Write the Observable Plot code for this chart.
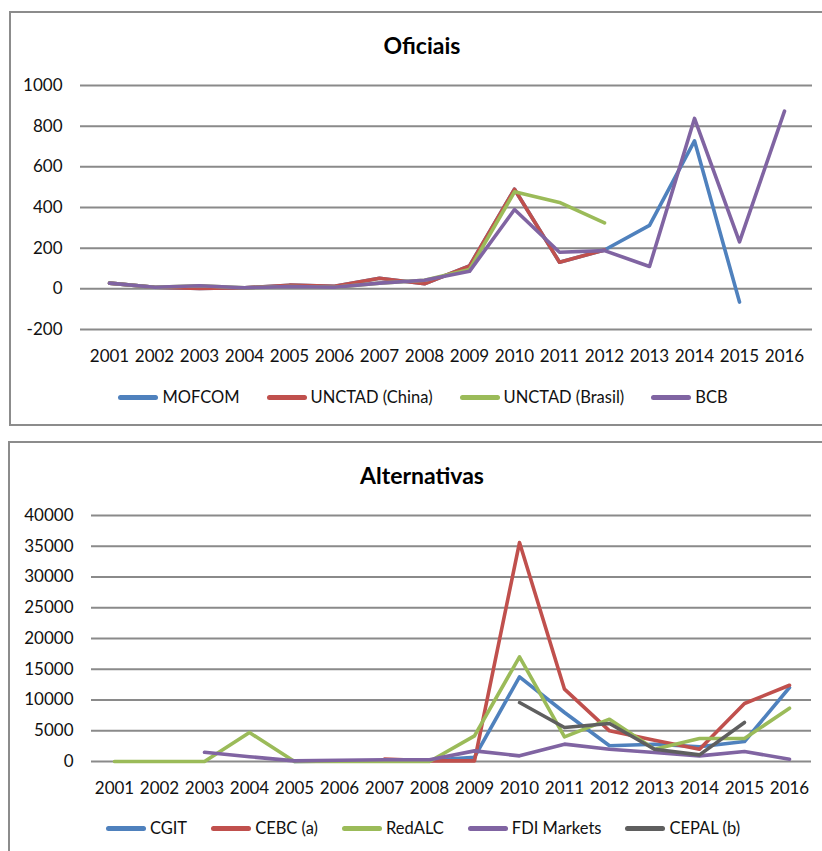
<!DOCTYPE html>
<html><head><meta charset="utf-8">
<script src="https://cdn.jsdelivr.net/npm/d3@7"></script>
<script src="https://cdn.jsdelivr.net/npm/@observablehq/plot@0.6"></script>
<style>
body{margin:0;width:822px;height:851px;overflow:hidden;background:#fff;font-family:Lato,sans-serif;position:relative;}
.panel{position:absolute;border:2px solid #8c8c8c;box-sizing:border-box;background:#fff;}
.title{position:absolute;text-align:center;font-weight:bold;font-size:23px;line-height:26px;color:#000;}
.chart{position:absolute;left:0;}
.legend{position:absolute;display:flex;justify-content:center;align-items:center;font-size:16.5px;line-height:20px;color:#111;}
.item{display:flex;align-items:center;white-space:nowrap;}
.sw{width:40px;height:5px;border-radius:3px;margin-right:4px;}
</style>
</head><body>
<div class="panel" style="left:9px;top:11px;width:826px;height:415px;"></div>
<div class="panel" style="left:8px;top:441px;width:828px;height:430px;"></div>
<div class="title" style="left:10px;width:824px;top:32px;">Oficiais</div>
<div class="title" style="left:10px;width:824px;top:462px;">Alternativas</div>
<div id="c1" class="chart" style="top:60px;"></div>
<div id="c2" class="chart" style="top:490px;"></div>
<div id="l1" class="legend" style="left:10px;width:826px;top:387px;gap:27px;"></div>
<div id="l2" class="legend" style="left:10px;width:826px;top:818px;gap:24px;"></div>
<script>
const years = ["2001","2002","2003","2004","2005","2006","2007","2008","2009","2010","2011","2012","2013","2014","2015","2016"];

// Oficiais
const mofcom       = [28, 8, 2, 5, 18, 12, 52, 25, 113, 490, 131, 191, 312, 728, -65, null];
const unctadChina  = [28, 8, 2, 5, 18, 12, 52, 25, 113, 490, 131, 191, null, null, null, null];
const unctadBrasil = [28, 8, 15, 5, 11, 8, 28, 42, 95, 477, 425, 324, null, null, null, null];
const bcb          = [28, 8, 15, 5, 11, 8, 28, 42, 86, 390, 180, 188, 110, 838, 231, 874];
const yTicks1 = [-200, 0, 200, 400, 600, 800, 1000];

// Alternativas
const cgit   = [null, null, null, null, 0, 100, 100, 200, 700, 13770, 7970, 2550, 2800, 2400, 3250, 12030];
const cebc   = [null, null, null, null, null, null, 400, 100, 100, 35600, 11760, 4990, 3470, 2000, 9430, 12400];
const redalc = [0, 0, 0, 4700, 0, 0, 0, 0, 4170, 17020, 4000, 6880, 2000, 3740, 3740, 8670];
const fdi    = [null, null, 1500, 780, 100, 200, 280, 280, 1730, 920, 2820, 2000, 1460, 920, 1630, 380];
const cepal  = [null, null, null, null, null, null, null, null, null, 9590, 5530, 6180, 2000, 1080, 6340, null];
const yTicks2 = [0, 5000, 10000, 15000, 20000, 25000, 30000, 35000, 40000];

const series1 = [
  {name:"MOFCOM", values:mofcom, color:"#4F81BD"},
  {name:"UNCTAD (China)", values:unctadChina, color:"#C0504D"},
  {name:"UNCTAD (Brasil)", values:unctadBrasil, color:"#9BBB59"},
  {name:"BCB", values:bcb, color:"#8064A2"}
];
const series2 = [
  {name:"CGIT", values:cgit, color:"#4F81BD"},
  {name:"CEBC (a)", values:cebc, color:"#C0504D"},
  {name:"RedALC", values:redalc, color:"#9BBB59"},
  {name:"FDI Markets", values:fdi, color:"#8064A2"},
  {name:"CEPAL (b)", values:cepal, color:"#5F5F5F"}
];

function rows(s){ return years.map((y,i)=>({year:y, value:s.values[i]})); }

function chart(series, yDomain, ticks, mL, mR, mT, mB){
  return Plot.plot({
    width: 822, height: 320,
    marginLeft: mL, marginRight: mR, marginTop: mT, marginBottom: mB,
    style: {fontFamily: "Lato, sans-serif", fontSize: "17px", color: "#111", background: "transparent"},
    x: {type: "point", domain: years, padding: 0.5, label: null},
    y: {domain: yDomain, label: null},
    marks: [
      Plot.ruleY(ticks, {stroke: "#8a8a8a", strokeWidth: 2}),
      Plot.axisY(ticks, {tickSize: 0, tickPadding: 18, fontSize: 17, label: null, tickFormat: d => String(d)}),
      Plot.axisX({tickSize: 0, tickPadding: 20, fontSize: 17, label: null}),
      ...series.map(s => Plot.line(rows(s), {x: "year", y: "value", stroke: s.color, strokeWidth: 3.6, strokeLinejoin: "round", strokeLinecap: "round"}))
    ]
  });
}

function legend(el, series){
  for (const s of series){
    const it = document.createElement("div"); it.className = "item";
    const sw = document.createElement("div"); sw.className = "sw"; sw.style.background = s.color;
    const tx = document.createElement("span"); tx.textContent = s.name;
    it.appendChild(sw); it.appendChild(tx); el.appendChild(it);
  }
}

document.getElementById("c1").appendChild(chart(series1, [-200, 1000], yTicks1, 80, 10, 25, 51));
document.getElementById("c2").appendChild(chart(series2, [0, 40000], yTicks2, 91, 11, 25, 49));
legend(document.getElementById("l1"), series1);
legend(document.getElementById("l2"), series2);
</script>
</body></html>
